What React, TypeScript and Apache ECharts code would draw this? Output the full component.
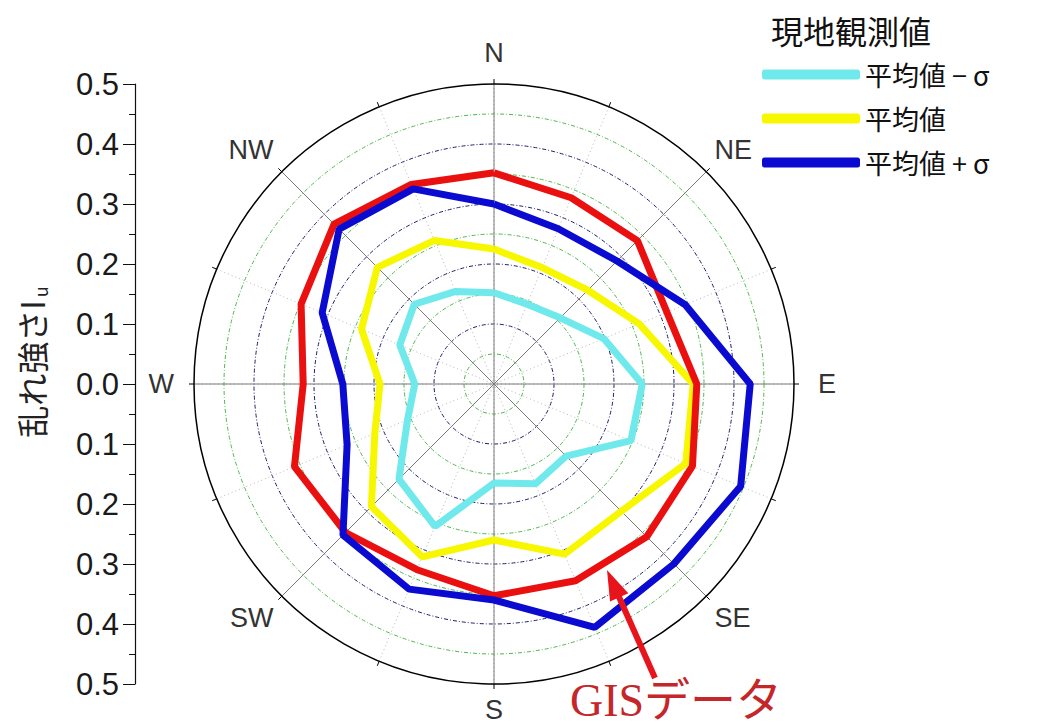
import React, { useEffect, useRef } from "react";
import * as echarts from "echarts";

// 16 compass directions, 22.5° apart, clockwise from north
const DIRECTIONS = ["N", "NNE", "NE", "ENE", "E", "ESE", "SE", "SSE", "S", "SSW", "SW", "WSW", "W", "WNW", "NW", "NNW"];
const STEP = 22.5;

// Observed turbulence intensity Iu per direction
const MEAN_MINUS_SIGMA = [0.152, 0.144, 0.156, 0.198, 0.247, 0.247, 0.17, 0.18, 0.165, 0.257, 0.224, 0.156, 0.132, 0.17, 0.188, 0.167];
const MEAN = [0.225, 0.21, 0.221, 0.262, 0.332, 0.346, 0.3, 0.307, 0.26, 0.312, 0.289, 0.215, 0.19, 0.239, 0.275, 0.259];
const MEAN_PLUS_SIGMA = [0.3, 0.28, 0.29, 0.345, 0.427, 0.445, 0.424, 0.439, 0.36, 0.37, 0.356, 0.265, 0.252, 0.31, 0.365, 0.352];
// GIS-based estimate
const GIS = [0.352, 0.336, 0.338, 0.312, 0.338, 0.358, 0.36, 0.355, 0.353, 0.335, 0.35, 0.36, 0.318, 0.348, 0.377, 0.36];

const SERIES_NAMES = ["平均値 − σ", "平均値", "平均値 + σ"];
const GIS_NAME = "GISデータ";
const LEGEND_TITLE = "現地観測値";

const R_MAX = 0.5;
const R_STEP = 0.05;
const Y_STEP = 0.1;

const CJK = "'Noto Sans CJK JP', 'Noto Sans', sans-serif";
const LATIN = "'Liberation Sans', Arial, sans-serif";

const CENTER: [number, number] = [494, 384];
const RADIUS = 300;

// close each polygon by repeating the first value at 360°
const toPolar = (vals: number[]) => [...vals.map((v, i) => [v, i * STEP]), [vals[0], 360]];

// ring colours: alternate green (odd 0.05 steps) and navy (0.1 steps); outermost left to the axis line
const RING_COUNT = Math.round(R_MAX / R_STEP);
const ringColors = Array.from({ length: RING_COUNT + 1 }, (_, i) => {
  if (i === 0 || i === RING_COUNT) return "rgba(0,0,0,0)";
  return i % 2 === 1 ? "#4cb84c" : "#1c1c6e";
});

// extra offset for the cardinal labels that sit further from the rim
const dirStyle = { fontSize: 27, color: "#333", fontFamily: LATIN };
const DIR_RICH = {
  n: { ...dirStyle, padding: [0, 0, 6, 0] },
  e: { ...dirStyle, padding: [0, 0, 0, 12] },
  w: { ...dirStyle, padding: [0, 8, 0, 0] },
  d: { ...dirStyle },
};

export default function App() {
  const ref = useRef<HTMLDivElement>(null);

  useEffect(() => {
    document.body.style.margin = "0";
    if (!ref.current) return;
    const chart = echarts.init(ref.current, undefined, { renderer: "svg" });

    const lineSeries = (name: string, vals: number[], color: string, z: number) => ({
      type: "line",
      name,
      coordinateSystem: "polar",
      polarIndex: 0,
      data: toPolar(vals),
      symbol: "none",
      z,
      lineStyle: { color, width: 7 },
      itemStyle: { color },
    });

    // arrow pointing from the annotation to the GIS polygon
    const tip = [607, 570];
    const tail = [655, 678];
    const len = Math.hypot(tail[0] - tip[0], tail[1] - tip[1]);
    const ux = (tail[0] - tip[0]) / len;
    const uy = (tail[1] - tip[1]) / len;
    const headLen = 30;
    const headHalf = 10;
    const bx = tip[0] + ux * headLen;
    const by = tip[1] + uy * headLen;

    chart.setOption({
      animation: false,
      backgroundColor: "#fff",
      title: {
        text: LEGEND_TITLE,
        left: 766,
        top: 9,
        textStyle: { fontSize: 32, fontWeight: "normal", color: "#111", fontFamily: CJK },
      },
      legend: {
        data: SERIES_NAMES,
        orient: "vertical",
        left: 757,
        top: 56,
        itemWidth: 98,
        itemHeight: 10,
        itemGap: 17,
        icon: "roundRect",
        textStyle: { fontSize: 27, color: "#111", fontFamily: CJK },
        selectedMode: false,
      },
      polar: [
        { center: CENTER, radius: RADIUS },
        { center: CENTER, radius: RADIUS },
      ],
      angleAxis: [
        {
          polarIndex: 0,
          type: "value",
          min: 0,
          max: 360,
          interval: 45,
          startAngle: 90,
          clockwise: true,
          z: 3,
          axisLine: { show: true, lineStyle: { color: "#000", width: 1.5 } },
          axisTick: { show: false },
          axisLabel: {
            show: true,
            margin: 12,
            ...dirStyle,
            rich: DIR_RICH,
            formatter: (v: number) => {
              if (v >= 360) return "";
              const name = DIRECTIONS[Math.round(v / STEP)];
              const key = name === "N" ? "n" : name === "E" ? "e" : name === "W" ? "w" : "d";
              return `{${key}|${name}}`;
            },
          },
          splitLine: { show: true, lineStyle: { color: "#7a7a7a", width: 1 } },
        },
        {
          polarIndex: 1,
          type: "value",
          min: 0,
          max: 360,
          interval: STEP,
          startAngle: 90,
          clockwise: true,
          axisLine: { show: false },
          axisTick: { show: true, length: 5, lineStyle: { color: "#000" } },
          axisLabel: { show: false },
          splitLine: { show: true, lineStyle: { color: "#b8b8b8", width: 1, type: [1, 3] } },
        },
      ],
      radiusAxis: [
        {
          polarIndex: 0,
          type: "value",
          min: 0,
          max: R_MAX,
          axisLine: { show: false },
          axisTick: { show: false },
          axisLabel: { show: false },
          splitLine: { show: false },
        },
        {
          polarIndex: 1,
          type: "value",
          min: 0,
          max: R_MAX,
          interval: R_STEP,
          axisLine: { show: false },
          axisTick: { show: false },
          axisLabel: { show: false },
          splitLine: { show: true, lineStyle: { color: ringColors, width: 1, type: [4, 2, 1, 2] } },
        },
      ],
      grid: { left: 135, top: 84, width: 1, height: 600 },
      xAxis: { type: "value", show: false, min: 0, max: 1 },
      yAxis: {
        type: "value",
        min: -R_MAX,
        max: R_MAX,
        interval: Y_STEP,
        axisLine: { show: true, lineStyle: { color: "#111", width: 1.2 } },
        axisTick: { show: true, length: 12, lineStyle: { color: "#111" } },
        minorTick: { show: true, splitNumber: 2, length: 6, lineStyle: { color: "#111" } },
        splitLine: { show: false },
        axisLabel: {
          margin: 16,
          fontSize: 31,
          color: "#1a1a1a",
          fontFamily: LATIN,
          formatter: (v: number) => Math.abs(v).toFixed(1),
        },
        name: "{a|乱れ強さI}{b|u}",
        nameLocation: "middle",
        nameRotate: 90,
        nameGap: 86,
        nameTextStyle: {
          padding: [0, 0, 0, 44],
          rich: {
            a: { fontSize: 32, color: "#222", fontFamily: CJK },
            b: { fontSize: 18, color: "#222", fontFamily: CJK, verticalAlign: "bottom", padding: [18, 0, 0, 3] },
          },
        },
      },
      series: [
        lineSeries(SERIES_NAMES[0], MEAN_MINUS_SIGMA, "#6fe9ec", 4),
        lineSeries(SERIES_NAMES[1], MEAN, "#f7f700", 5),
        lineSeries(GIS_NAME, GIS, "#ea1010", 6),
        lineSeries(SERIES_NAMES[2], MEAN_PLUS_SIGMA, "#0a0ad0", 7),
      ],
      graphic: [
        {
          type: "line",
          z: 20,
          shape: { x1: bx - ux * 2, y1: by - uy * 2, x2: tail[0], y2: tail[1] },
          style: { stroke: "#e8141c", lineWidth: 6 },
        },
        {
          type: "polygon",
          z: 20,
          shape: {
            points: [
              [tip[0], tip[1]],
              [bx + uy * headHalf, by - ux * headHalf],
              [bx - uy * headHalf, by + ux * headHalf],
            ],
          },
          style: { fill: "#e8141c" },
        },
        {
          type: "text",
          z: 20,
          x: 676,
          y: 700,
          style: {
            text: GIS_NAME,
            fontSize: 46,
            fontFamily: "'Liberation Serif', 'Noto Sans CJK JP', serif",
            fill: "#c4262a",
            align: "center",
            verticalAlign: "middle",
          },
        },
      ],
    });

    return () => chart.dispose();
  }, []);

  return <div ref={ref} style={{ width: 1053, height: 725 }} />;
}
